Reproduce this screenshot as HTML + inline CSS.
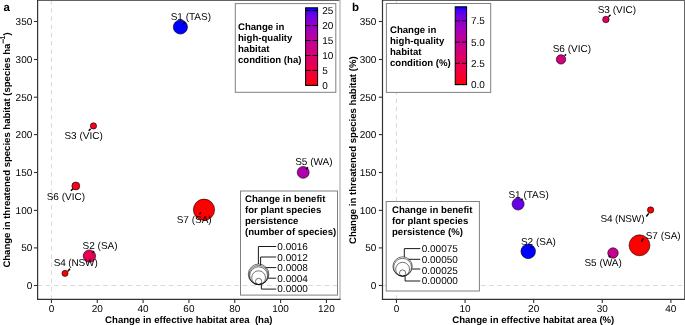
<!DOCTYPE html>
<html><head><meta charset="utf-8"><title>Figure</title>
<style>html,body{margin:0;padding:0;background:#fff;} svg{display:block;will-change:transform;} text{white-space:pre;text-rendering:geometricPrecision;}</style>
</head><body>
<svg width="685" height="325" viewBox="0 0 685 325" font-family='"Liberation Sans", sans-serif'>
<rect width="685" height="325" fill="#fff"/>
<line x1="51.45" y1="0.00" x2="51.45" y2="299.40" stroke="#d9d9d9" stroke-width="1.0" stroke-dasharray="4.6 3.6"/>
<line x1="37.60" y1="285.50" x2="340.00" y2="285.50" stroke="#d9d9d9" stroke-width="1.0" stroke-dasharray="4.6 3.6"/>
<line x1="37.00" y1="0.50" x2="340.00" y2="0.50" stroke="#636363" stroke-width="1.0" />
<line x1="340.00" y1="0.00" x2="340.00" y2="299.40" stroke="#c4c4c4" stroke-width="1.6" />
<line x1="37.60" y1="0.00" x2="37.60" y2="300.00" stroke="#333333" stroke-width="1.2" />
<line x1="37.00" y1="299.40" x2="340.60" y2="299.40" stroke="#333333" stroke-width="1.2" />
<line x1="33.90" y1="285.50" x2="37.60" y2="285.50" stroke="#333333" stroke-width="1.1" />
<text x="32.30" y="289.00" font-size="10" font-weight="normal" text-anchor="end" fill="#000" >0</text>
<line x1="33.90" y1="247.90" x2="37.60" y2="247.90" stroke="#333333" stroke-width="1.1" />
<text x="32.30" y="251.40" font-size="10" font-weight="normal" text-anchor="end" fill="#000" >50</text>
<line x1="33.90" y1="210.40" x2="37.60" y2="210.40" stroke="#333333" stroke-width="1.1" />
<text x="32.30" y="213.90" font-size="10" font-weight="normal" text-anchor="end" fill="#000" >100</text>
<line x1="33.90" y1="172.50" x2="37.60" y2="172.50" stroke="#333333" stroke-width="1.1" />
<text x="32.30" y="176.00" font-size="10" font-weight="normal" text-anchor="end" fill="#000" >150</text>
<line x1="33.90" y1="134.60" x2="37.60" y2="134.60" stroke="#333333" stroke-width="1.1" />
<text x="32.30" y="138.10" font-size="10" font-weight="normal" text-anchor="end" fill="#000" >200</text>
<line x1="33.90" y1="97.20" x2="37.60" y2="97.20" stroke="#333333" stroke-width="1.1" />
<text x="32.30" y="100.70" font-size="10" font-weight="normal" text-anchor="end" fill="#000" >250</text>
<line x1="33.90" y1="59.50" x2="37.60" y2="59.50" stroke="#333333" stroke-width="1.1" />
<text x="32.30" y="63.00" font-size="10" font-weight="normal" text-anchor="end" fill="#000" >300</text>
<line x1="33.90" y1="21.50" x2="37.60" y2="21.50" stroke="#333333" stroke-width="1.1" />
<text x="32.30" y="25.00" font-size="10" font-weight="normal" text-anchor="end" fill="#000" >350</text>
<line x1="51.45" y1="299.40" x2="51.45" y2="302.90" stroke="#333333" stroke-width="1.1" />
<text x="51.45" y="312.40" font-size="10" font-weight="normal" text-anchor="middle" fill="#000" >0</text>
<line x1="97.28" y1="299.40" x2="97.28" y2="302.90" stroke="#333333" stroke-width="1.1" />
<text x="97.28" y="312.40" font-size="10" font-weight="normal" text-anchor="middle" fill="#000" >20</text>
<line x1="143.10" y1="299.40" x2="143.10" y2="302.90" stroke="#333333" stroke-width="1.1" />
<text x="143.10" y="312.40" font-size="10" font-weight="normal" text-anchor="middle" fill="#000" >40</text>
<line x1="188.93" y1="299.40" x2="188.93" y2="302.90" stroke="#333333" stroke-width="1.1" />
<text x="188.93" y="312.40" font-size="10" font-weight="normal" text-anchor="middle" fill="#000" >60</text>
<line x1="234.75" y1="299.40" x2="234.75" y2="302.90" stroke="#333333" stroke-width="1.1" />
<text x="234.75" y="312.40" font-size="10" font-weight="normal" text-anchor="middle" fill="#000" >80</text>
<line x1="280.58" y1="299.40" x2="280.58" y2="302.90" stroke="#333333" stroke-width="1.1" />
<text x="280.58" y="312.40" font-size="10" font-weight="normal" text-anchor="middle" fill="#000" >100</text>
<line x1="326.41" y1="299.40" x2="326.41" y2="302.90" stroke="#333333" stroke-width="1.1" />
<text x="326.41" y="312.40" font-size="10" font-weight="normal" text-anchor="middle" fill="#000" >120</text>
<line x1="396.45" y1="0.00" x2="396.45" y2="299.40" stroke="#d9d9d9" stroke-width="1.0" stroke-dasharray="4.6 3.6"/>
<line x1="382.50" y1="285.50" x2="684.50" y2="285.50" stroke="#d9d9d9" stroke-width="1.0" stroke-dasharray="4.6 3.6"/>
<line x1="381.90" y1="0.50" x2="684.50" y2="0.50" stroke="#636363" stroke-width="1.0" />
<line x1="684.50" y1="0.00" x2="684.50" y2="299.40" stroke="#646464" stroke-width="1.0" />
<line x1="382.50" y1="0.00" x2="382.50" y2="300.00" stroke="#333333" stroke-width="1.2" />
<line x1="381.90" y1="299.40" x2="685.10" y2="299.40" stroke="#333333" stroke-width="1.2" />
<line x1="378.80" y1="285.50" x2="382.50" y2="285.50" stroke="#333333" stroke-width="1.1" />
<text x="376.40" y="289.00" font-size="10" font-weight="normal" text-anchor="end" fill="#000" >0</text>
<line x1="378.80" y1="247.90" x2="382.50" y2="247.90" stroke="#333333" stroke-width="1.1" />
<text x="376.40" y="251.40" font-size="10" font-weight="normal" text-anchor="end" fill="#000" >50</text>
<line x1="378.80" y1="210.40" x2="382.50" y2="210.40" stroke="#333333" stroke-width="1.1" />
<text x="376.40" y="213.90" font-size="10" font-weight="normal" text-anchor="end" fill="#000" >100</text>
<line x1="378.80" y1="172.50" x2="382.50" y2="172.50" stroke="#333333" stroke-width="1.1" />
<text x="376.40" y="176.00" font-size="10" font-weight="normal" text-anchor="end" fill="#000" >150</text>
<line x1="378.80" y1="134.60" x2="382.50" y2="134.60" stroke="#333333" stroke-width="1.1" />
<text x="376.40" y="138.10" font-size="10" font-weight="normal" text-anchor="end" fill="#000" >200</text>
<line x1="378.80" y1="97.20" x2="382.50" y2="97.20" stroke="#333333" stroke-width="1.1" />
<text x="376.40" y="100.70" font-size="10" font-weight="normal" text-anchor="end" fill="#000" >250</text>
<line x1="378.80" y1="59.50" x2="382.50" y2="59.50" stroke="#333333" stroke-width="1.1" />
<text x="376.40" y="63.00" font-size="10" font-weight="normal" text-anchor="end" fill="#000" >300</text>
<line x1="378.80" y1="21.50" x2="382.50" y2="21.50" stroke="#333333" stroke-width="1.1" />
<text x="376.40" y="25.00" font-size="10" font-weight="normal" text-anchor="end" fill="#000" >350</text>
<line x1="396.45" y1="299.40" x2="396.45" y2="302.90" stroke="#333333" stroke-width="1.1" />
<text x="396.45" y="312.40" font-size="10" font-weight="normal" text-anchor="middle" fill="#000" >0</text>
<line x1="465.06" y1="299.40" x2="465.06" y2="302.90" stroke="#333333" stroke-width="1.1" />
<text x="465.06" y="312.40" font-size="10" font-weight="normal" text-anchor="middle" fill="#000" >10</text>
<line x1="533.67" y1="299.40" x2="533.67" y2="302.90" stroke="#333333" stroke-width="1.1" />
<text x="533.67" y="312.40" font-size="10" font-weight="normal" text-anchor="middle" fill="#000" >20</text>
<line x1="602.28" y1="299.40" x2="602.28" y2="302.90" stroke="#333333" stroke-width="1.1" />
<text x="602.28" y="312.40" font-size="10" font-weight="normal" text-anchor="middle" fill="#000" >30</text>
<line x1="670.89" y1="299.40" x2="670.89" y2="302.90" stroke="#333333" stroke-width="1.1" />
<text x="670.89" y="312.40" font-size="10" font-weight="normal" text-anchor="middle" fill="#000" >40</text>
<text x="3.50" y="10.90" font-size="11.5" font-weight="bold" text-anchor="start" fill="#000" >a</text>
<text x="352.10" y="11.00" font-size="11.5" font-weight="bold" text-anchor="start" fill="#000" >b</text>
<text x="188.80" y="323.00" font-size="9.6" font-weight="bold" text-anchor="middle" fill="#000" >Change in effective habitat area&#160; (ha)</text>
<text x="533.30" y="323.00" font-size="9.6" font-weight="bold" text-anchor="middle" fill="#000" >Change in effective habitat area (%)</text>
<text transform="translate(9.9,149.9) rotate(-90)" font-size="9.55" font-weight="bold" text-anchor="middle" fill="#000">Change in threatened species habitat (species ha<tspan font-size="8.6" dy="-3.9">−</tspan><tspan font-size="7" dx="-0.9" dy="-1.3">1</tspan><tspan dy="5.2" dx="0.3">)</tspan></text>
<text transform="translate(356.4,150.2) rotate(-90)" font-size="9.6" font-weight="bold" text-anchor="middle" fill="#000">Change in threatened species habitat (%)</text>
<circle cx="204.00" cy="209.70" r="10.60" fill="#ff0000" stroke="#000" stroke-width="0.6"/>
<circle cx="180.40" cy="27.00" r="7.10" fill="#0000ff" stroke="#000" stroke-width="0.6"/>
<circle cx="89.40" cy="256.10" r="6.20" fill="#e50056" stroke="#000" stroke-width="0.6"/>
<circle cx="303.20" cy="172.40" r="5.95" fill="#ae00ad" stroke="#000" stroke-width="0.6"/>
<circle cx="75.80" cy="186.00" r="3.95" fill="#fa001e" stroke="#000" stroke-width="0.6"/>
<circle cx="93.45" cy="125.95" r="3.15" fill="#f90021" stroke="#000" stroke-width="0.6"/>
<circle cx="65.00" cy="273.40" r="3.05" fill="#ff0000" stroke="#000" stroke-width="0.6"/>
<line x1="199.40" y1="214.20" x2="200.90" y2="212.60" stroke="#000" stroke-width="1.5" />
<line x1="182.80" y1="24.20" x2="184.90" y2="22.30" stroke="#000" stroke-width="1.5" />
<line x1="92.50" y1="252.80" x2="94.00" y2="251.20" stroke="#000" stroke-width="1.5" />
<line x1="306.00" y1="169.40" x2="308.00" y2="167.40" stroke="#000" stroke-width="1.5" />
<line x1="70.90" y1="190.80" x2="72.90" y2="188.70" stroke="#000" stroke-width="1.5" />
<line x1="88.70" y1="130.70" x2="90.60" y2="128.90" stroke="#000" stroke-width="1.5" />
<line x1="67.90" y1="271.30" x2="70.00" y2="268.70" stroke="#000" stroke-width="1.5" />
<text x="176.65" y="223.30" font-size="10" font-weight="normal" text-anchor="start" fill="#000" >S7 (SA)</text>
<text x="170.65" y="20.10" font-size="10" font-weight="normal" text-anchor="start" fill="#000" >S1 (TAS)</text>
<text x="82.55" y="249.10" font-size="10" font-weight="normal" text-anchor="start" fill="#000" >S2 (SA)</text>
<text x="295.20" y="165.35" font-size="10" font-weight="normal" text-anchor="start" fill="#000" >S5 (WA)</text>
<text x="46.65" y="199.85" font-size="10" font-weight="normal" text-anchor="start" fill="#000" >S6 (VIC)</text>
<text x="64.40" y="139.45" font-size="10" font-weight="normal" text-anchor="start" fill="#000" >S3 (VIC)</text>
<text x="53.65" y="266.45" font-size="10" font-weight="normal" text-anchor="start" fill="#000" textLength="44.1">S4 (NSW)</text>
<circle cx="639.50" cy="245.30" r="10.45" fill="#ff0000" stroke="#000" stroke-width="0.6"/>
<circle cx="528.20" cy="251.40" r="7.25" fill="#0000ff" stroke="#000" stroke-width="0.6"/>
<circle cx="518.10" cy="204.00" r="6.05" fill="#6800e7" stroke="#000" stroke-width="0.6"/>
<circle cx="613.00" cy="253.00" r="5.25" fill="#c5008f" stroke="#000" stroke-width="0.6"/>
<circle cx="561.00" cy="59.40" r="4.70" fill="#d2007b" stroke="#000" stroke-width="0.6"/>
<circle cx="605.90" cy="19.50" r="3.25" fill="#e40059" stroke="#000" stroke-width="0.6"/>
<circle cx="650.60" cy="210.00" r="3.15" fill="#ff0000" stroke="#000" stroke-width="0.6"/>
<line x1="641.40" y1="241.60" x2="643.30" y2="238.30" stroke="#000" stroke-width="1.5" />
<line x1="530.80" y1="247.80" x2="531.80" y2="246.70" stroke="#000" stroke-width="1.5" />
<line x1="521.00" y1="200.30" x2="522.60" y2="198.80" stroke="#000" stroke-width="1.5" />
<line x1="608.80" y1="257.20" x2="610.20" y2="255.80" stroke="#000" stroke-width="1.5" />
<line x1="564.60" y1="55.80" x2="566.00" y2="54.40" stroke="#000" stroke-width="1.5" />
<line x1="608.50" y1="16.70" x2="610.50" y2="14.90" stroke="#000" stroke-width="1.5" />
<line x1="646.30" y1="216.50" x2="648.70" y2="213.40" stroke="#000" stroke-width="1.5" />
<text x="645.65" y="239.10" font-size="10" font-weight="normal" text-anchor="start" fill="#000" >S7 (SA)</text>
<text x="520.90" y="244.60" font-size="10" font-weight="normal" text-anchor="start" fill="#000" >S2 (SA)</text>
<text x="508.40" y="197.50" font-size="10" font-weight="normal" text-anchor="start" fill="#000" >S1 (TAS)</text>
<text x="584.40" y="266.45" font-size="10" font-weight="normal" text-anchor="start" fill="#000" >S5 (WA)</text>
<text x="552.65" y="52.45" font-size="10" font-weight="normal" text-anchor="start" fill="#000" >S6 (VIC)</text>
<text x="597.65" y="13.00" font-size="10" font-weight="normal" text-anchor="start" fill="#000" >S3 (VIC)</text>
<text x="600.40" y="222.30" font-size="10" font-weight="normal" text-anchor="start" fill="#000" textLength="44.1">S4 (NSW)</text>
<rect x="235.3" y="3.6" width="100.5" height="88.7" fill="none" stroke="#808080" stroke-width="1"/>
<text x="238.00" y="30.00" font-size="9.6" font-weight="bold" text-anchor="start" fill="#000" >Change in</text>
<text x="238.00" y="41.00" font-size="9.6" font-weight="bold" text-anchor="start" fill="#000" >high-quality</text>
<text x="238.00" y="52.00" font-size="9.6" font-weight="bold" text-anchor="start" fill="#000" >habitat</text>
<text x="238.00" y="63.00" font-size="9.6" font-weight="bold" text-anchor="start" fill="#000" >condition (ha)</text>
<defs><linearGradient id="g305" x1="0" y1="0" x2="0" y2="1"><stop offset="0.000" stop-color="#0000ff"/><stop offset="0.050" stop-color="#4b00f3"/><stop offset="0.100" stop-color="#6800e7"/><stop offset="0.150" stop-color="#7c00da"/><stop offset="0.200" stop-color="#8d00ce"/><stop offset="0.250" stop-color="#9a00c3"/><stop offset="0.300" stop-color="#a600b7"/><stop offset="0.350" stop-color="#b000ab"/><stop offset="0.400" stop-color="#ba009f"/><stop offset="0.450" stop-color="#c20094"/><stop offset="0.500" stop-color="#ca0088"/><stop offset="0.550" stop-color="#d1007d"/><stop offset="0.600" stop-color="#d70072"/><stop offset="0.650" stop-color="#dd0066"/><stop offset="0.700" stop-color="#e3005b"/><stop offset="0.750" stop-color="#e80050"/><stop offset="0.800" stop-color="#ed0044"/><stop offset="0.850" stop-color="#f20037"/><stop offset="0.900" stop-color="#f6002a"/><stop offset="0.950" stop-color="#fb001a"/><stop offset="1.000" stop-color="#ff0000"/></linearGradient></defs>
<rect x="305.6" y="7.8" width="12.0" height="77.60000000000001" fill="url(#g305)" stroke="#000" stroke-width="1"/>
<line x1="305.60" y1="85.40" x2="310.64" y2="85.40" stroke="#000" stroke-width="1.0" />
<line x1="312.56" y1="85.40" x2="317.60" y2="85.40" stroke="#000" stroke-width="1.0" />
<text x="322.30" y="88.90" font-size="10" font-weight="normal" text-anchor="start" fill="#000" >0</text>
<line x1="305.60" y1="70.45" x2="310.64" y2="70.45" stroke="#000" stroke-width="1.0" />
<line x1="312.56" y1="70.45" x2="317.60" y2="70.45" stroke="#000" stroke-width="1.0" />
<text x="322.30" y="73.95" font-size="10" font-weight="normal" text-anchor="start" fill="#000" >5</text>
<line x1="305.60" y1="55.50" x2="310.64" y2="55.50" stroke="#000" stroke-width="1.0" />
<line x1="312.56" y1="55.50" x2="317.60" y2="55.50" stroke="#000" stroke-width="1.0" />
<text x="322.30" y="59.00" font-size="10" font-weight="normal" text-anchor="start" fill="#000" >10</text>
<line x1="305.60" y1="40.54" x2="310.64" y2="40.54" stroke="#000" stroke-width="1.0" />
<line x1="312.56" y1="40.54" x2="317.60" y2="40.54" stroke="#000" stroke-width="1.0" />
<text x="322.30" y="44.04" font-size="10" font-weight="normal" text-anchor="start" fill="#000" >15</text>
<line x1="305.60" y1="25.59" x2="310.64" y2="25.59" stroke="#000" stroke-width="1.0" />
<line x1="312.56" y1="25.59" x2="317.60" y2="25.59" stroke="#000" stroke-width="1.0" />
<text x="322.30" y="29.09" font-size="10" font-weight="normal" text-anchor="start" fill="#000" >20</text>
<line x1="305.60" y1="10.64" x2="310.64" y2="10.64" stroke="#000" stroke-width="1.0" />
<line x1="312.56" y1="10.64" x2="317.60" y2="10.64" stroke="#000" stroke-width="1.0" />
<text x="322.30" y="14.14" font-size="10" font-weight="normal" text-anchor="start" fill="#000" >25</text>
<rect x="386.4" y="3.5" width="104.30000000000001" height="88.9" fill="#fff" stroke="#808080" stroke-width="1"/>
<text x="390.00" y="33.20" font-size="9.6" font-weight="bold" text-anchor="start" fill="#000" >Change in</text>
<text x="390.00" y="44.25" font-size="9.6" font-weight="bold" text-anchor="start" fill="#000" >high-quality</text>
<text x="390.00" y="55.30" font-size="9.6" font-weight="bold" text-anchor="start" fill="#000" >habitat</text>
<text x="390.00" y="66.35" font-size="9.6" font-weight="bold" text-anchor="start" fill="#000" >condition (%)</text>
<defs><linearGradient id="g455" x1="0" y1="0" x2="0" y2="1"><stop offset="0.000" stop-color="#0000ff"/><stop offset="0.050" stop-color="#4b00f3"/><stop offset="0.100" stop-color="#6800e7"/><stop offset="0.150" stop-color="#7c00da"/><stop offset="0.200" stop-color="#8d00ce"/><stop offset="0.250" stop-color="#9a00c3"/><stop offset="0.300" stop-color="#a600b7"/><stop offset="0.350" stop-color="#b000ab"/><stop offset="0.400" stop-color="#ba009f"/><stop offset="0.450" stop-color="#c20094"/><stop offset="0.500" stop-color="#ca0088"/><stop offset="0.550" stop-color="#d1007d"/><stop offset="0.600" stop-color="#d70072"/><stop offset="0.650" stop-color="#dd0066"/><stop offset="0.700" stop-color="#e3005b"/><stop offset="0.750" stop-color="#e80050"/><stop offset="0.800" stop-color="#ed0044"/><stop offset="0.850" stop-color="#f20037"/><stop offset="0.900" stop-color="#f6002a"/><stop offset="0.950" stop-color="#fb001a"/><stop offset="1.000" stop-color="#ff0000"/></linearGradient></defs>
<rect x="455.2" y="6.8" width="11.400000000000034" height="77.8" fill="url(#g455)" stroke="#000" stroke-width="1"/>
<line x1="455.20" y1="84.60" x2="459.99" y2="84.60" stroke="#000" stroke-width="1.0" />
<line x1="461.81" y1="84.60" x2="466.60" y2="84.60" stroke="#000" stroke-width="1.0" />
<text x="470.90" y="88.10" font-size="10" font-weight="normal" text-anchor="start" fill="#000" >0.0</text>
<line x1="455.20" y1="63.34" x2="459.99" y2="63.34" stroke="#000" stroke-width="1.0" />
<line x1="461.81" y1="63.34" x2="466.60" y2="63.34" stroke="#000" stroke-width="1.0" />
<text x="470.90" y="66.84" font-size="10" font-weight="normal" text-anchor="start" fill="#000" >2.5</text>
<line x1="455.20" y1="42.09" x2="459.99" y2="42.09" stroke="#000" stroke-width="1.0" />
<line x1="461.81" y1="42.09" x2="466.60" y2="42.09" stroke="#000" stroke-width="1.0" />
<text x="470.90" y="45.59" font-size="10" font-weight="normal" text-anchor="start" fill="#000" >5.0</text>
<line x1="455.20" y1="20.83" x2="459.99" y2="20.83" stroke="#000" stroke-width="1.0" />
<line x1="461.81" y1="20.83" x2="466.60" y2="20.83" stroke="#000" stroke-width="1.0" />
<text x="470.90" y="24.33" font-size="10" font-weight="normal" text-anchor="start" fill="#000" >7.5</text>
<rect x="240.5" y="191.0" width="97.0" height="104.10000000000002" fill="none" stroke="#808080" stroke-width="1"/>
<text x="245.00" y="202.00" font-size="9.6" font-weight="bold" text-anchor="start" fill="#000" >Change in benefit</text>
<text x="245.00" y="212.85" font-size="9.6" font-weight="bold" text-anchor="start" fill="#000" >for plant species</text>
<text x="245.00" y="223.70" font-size="9.6" font-weight="bold" text-anchor="start" fill="#000" >persistence</text>
<text x="245.00" y="234.55" font-size="9.6" font-weight="bold" text-anchor="start" fill="#000" >(number of species)</text>
<circle cx="258.60" cy="274.30" r="10.30" fill="none" stroke="#000" stroke-width="0.55"/>
<circle cx="258.60" cy="275.00" r="9.60" fill="none" stroke="#000" stroke-width="0.55"/>
<circle cx="258.60" cy="275.70" r="8.90" fill="none" stroke="#000" stroke-width="0.55"/>
<circle cx="258.60" cy="277.70" r="6.90" fill="none" stroke="#000" stroke-width="0.55"/>
<circle cx="258.60" cy="281.45" r="3.15" fill="none" stroke="#000" stroke-width="0.55"/>
<text x="277.30" y="250.05" font-size="10" font-weight="normal" text-anchor="start" fill="#000" >0.0016</text>
<text x="277.30" y="260.65" font-size="10" font-weight="normal" text-anchor="start" fill="#000" >0.0012</text>
<text x="277.30" y="271.25" font-size="10" font-weight="normal" text-anchor="start" fill="#000" >0.0008</text>
<text x="277.30" y="281.85" font-size="10" font-weight="normal" text-anchor="start" fill="#000" >0.0004</text>
<text x="277.30" y="292.45" font-size="10" font-weight="normal" text-anchor="start" fill="#000" >0.0000</text>
<polyline points="258.40,264.00 258.40,246.50 276.20,246.50" fill="none" stroke="#1a1a1a" stroke-width="1"/>
<polyline points="260.60,265.40 260.60,257.00 276.20,257.00" fill="none" stroke="#1a1a1a" stroke-width="1"/>
<polyline points="265.50,267.60 276.20,267.60" fill="none" stroke="#1a1a1a" stroke-width="1"/>
<polyline points="268.20,278.20 276.20,278.20" fill="none" stroke="#1a1a1a" stroke-width="1"/>
<polyline points="261.40,284.60 261.40,289.10 276.20,289.10" fill="none" stroke="#1a1a1a" stroke-width="1"/>
<rect x="386.2" y="201.5" width="93.19999999999999" height="89.5" fill="#fff" stroke="#808080" stroke-width="1"/>
<text x="392.00" y="212.80" font-size="9.6" font-weight="bold" text-anchor="start" fill="#000" >Change in benefit</text>
<text x="392.00" y="223.65" font-size="9.6" font-weight="bold" text-anchor="start" fill="#000" >for plant species</text>
<text x="392.00" y="234.50" font-size="9.6" font-weight="bold" text-anchor="start" fill="#000" >persistence (%)</text>
<circle cx="402.60" cy="266.50" r="9.70" fill="none" stroke="#000" stroke-width="0.55"/>
<circle cx="402.60" cy="267.25" r="8.95" fill="none" stroke="#000" stroke-width="0.55"/>
<circle cx="402.60" cy="269.25" r="6.95" fill="none" stroke="#000" stroke-width="0.55"/>
<circle cx="402.60" cy="273.05" r="3.15" fill="none" stroke="#000" stroke-width="0.55"/>
<text x="421.70" y="251.90" font-size="10" font-weight="normal" text-anchor="start" fill="#000" >0.00075</text>
<text x="421.70" y="262.75" font-size="10" font-weight="normal" text-anchor="start" fill="#000" >0.00050</text>
<text x="421.70" y="273.60" font-size="10" font-weight="normal" text-anchor="start" fill="#000" >0.00025</text>
<text x="421.70" y="284.45" font-size="10" font-weight="normal" text-anchor="start" fill="#000" >0.00000</text>
<polyline points="404.30,257.00 404.30,248.60 420.30,248.60" fill="none" stroke="#1a1a1a" stroke-width="1"/>
<polyline points="408.50,259.30 420.30,259.30" fill="none" stroke="#1a1a1a" stroke-width="1"/>
<polyline points="412.20,269.00 420.30,269.00" fill="none" stroke="#1a1a1a" stroke-width="1"/>
<polyline points="405.10,276.20 405.10,281.00 420.30,281.00" fill="none" stroke="#1a1a1a" stroke-width="1"/>
</svg>
</body></html>
